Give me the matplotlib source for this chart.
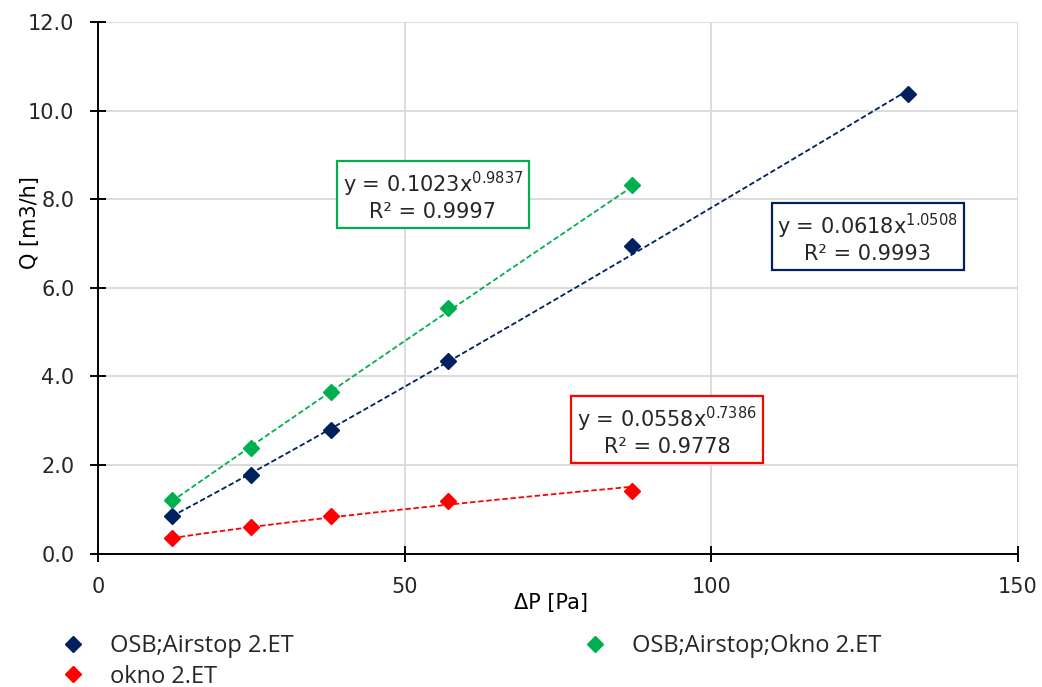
import numpy as np
import matplotlib.pyplot as plt
from matplotlib.lines import Line2D

plt.rcParams['font.family'] = ['DejaVu Sans']
plt.rcParams['mathtext.fontset'] = 'custom'
plt.rcParams['mathtext.rm'] = 'DejaVu Sans'

# data
dp_osb = [12, 25, 38, 57, 87, 132]
q_osb = [0.86, 1.78, 2.79, 4.35, 6.95, 10.37]
dp_okno_all = [12, 25, 38, 57, 87]
q_okno_all = [1.21, 2.38, 3.64, 5.54, 8.33]
dp_okno = [12, 25, 38, 57, 87]
q_okno = [0.35, 0.61, 0.86, 1.18, 1.42]

# power trendline coefficients as printed on the chart
fit_osb = (0.0618, 1.0508, 0.9993)
fit_okno_all = (0.1023, 0.9837, 0.9997)
fit_okno = (0.0558, 0.7386, 0.9778)

c_blue = '#002060'
c_green = '#00B050'
c_red = '#FF0000'
c_text = '#262626'

fig = plt.figure(figsize=(10.42, 6.87), dpi=100)
ax = fig.add_axes([0.094, 0.194, 0.883, 0.774])

series = [
    (dp_osb, q_osb, fit_osb, c_blue),
    (dp_okno_all, q_okno_all, fit_okno_all, c_green),
    (dp_okno, q_okno, fit_okno, c_red),
]
for x, y, fit, col in series:
    xs = np.linspace(min(x), max(x), 100)
    ax.plot(xs, fit[0] * xs ** fit[1], ls=(0, (3, 1.5)), color=col, lw=1.3, zorder=2)
    ax.plot(x, y, ls='none', marker='D', ms=8.5, color=col, zorder=3)

# trendline labels
boxes = [(fit_okno_all, c_green, 54.6, 8.08),
         (fit_osb, c_blue, 125.5, 7.13),
         (fit_okno, c_red, 92.8, 2.77)]
for fit, col, bx, by in boxes:
    txt = 'y = %.4fx$\\mathregular{^{%.4f}}$\nR² = %.4f' % fit
    ax.text(bx, by, txt, ha='center', va='center', fontsize=15, color=c_text,
            linespacing=1.2, zorder=5,
            bbox=dict(boxstyle='square,pad=0.28', fc='white', ec=col, lw=1.6))

ax.set_xlim(0, 150)
ax.set_ylim(0, 12)
ax.set_xticks([0, 50, 100, 150])
ax.set_yticks(np.arange(0, 12.1, 2))
ax.set_yticklabels(['%.1f' % v for v in np.arange(0, 12.1, 2)])
ax.grid(True, color='#D9D9D9', lw=1.3)
ax.set_axisbelow(True)
for s in ['top', 'right']:
    ax.spines[s].set_visible(False)
for s in ['left', 'bottom']:
    ax.spines[s].set_linewidth(1.4)
ax.tick_params(direction='inout', length=12, width=1.4, labelsize=15,
               labelcolor=c_text)
ax.tick_params(axis='y', pad=11)
ax.tick_params(axis='x', pad=11)
ax.set_xlabel('ΔP [Pa]', fontsize=15, va='center')
ax.xaxis.set_label_coords(0.492, -0.092)
ax.set_ylabel('Q [m3/h]', fontsize=15, va='center')
ax.yaxis.set_label_coords(-0.074, 0.622)

handles = [Line2D([], [], ls='none', marker='D', ms=8.5, color=c) for c in (c_blue, c_red, c_green)]
labels = ['OSB;Airstop 2.ET', 'okno 2.ET', 'OSB;Airstop;Okno 2.ET']
fig.legend(handles, labels, ncol=2, loc='upper left', bbox_to_anchor=(0.037, 0.101),
           frameon=False, columnspacing=12.0, handletextpad=0.82, handlelength=1.5,
           labelspacing=0.27, labelcolor=c_text, borderpad=0.2,
           prop={'family': ['Open Sans', 'DejaVu Sans'], 'size': 17})

fig.savefig('out.png', dpi=100)
